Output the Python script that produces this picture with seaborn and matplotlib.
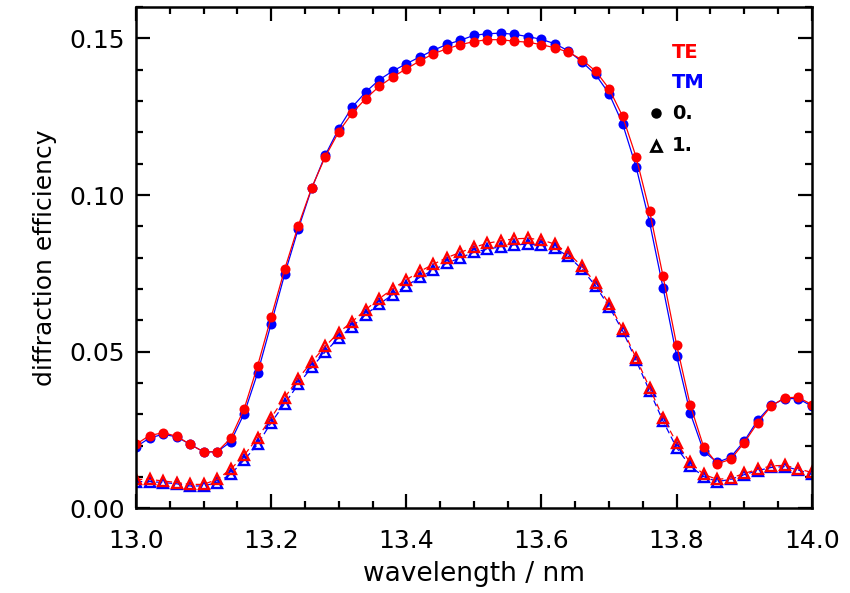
import numpy as np
import pandas as pd
import matplotlib
matplotlib.use("Agg")
import matplotlib.pyplot as plt
from matplotlib.ticker import MultipleLocator, FormatStrFormatter
import seaborn as sns

# wavelength grid (nm)
wavelength = [round(13.0 + 0.02 * i, 2) for i in range(51)]

# zeroth order, TE polarisation
te_0 = [0.0204, 0.0232, 0.0241, 0.0230, 0.0204, 0.0180, 0.0180, 0.0223, 0.0317, 0.0455,
        0.0610, 0.0763, 0.0901, 0.1023, 0.1122, 0.1202, 0.1262, 0.1308, 0.1347, 0.1377,
        0.1403, 0.1428, 0.1451, 0.1467, 0.1480, 0.1490, 0.1496, 0.1496, 0.1491, 0.1488,
        0.1480, 0.1470, 0.1456, 0.1432, 0.1396, 0.1340, 0.1252, 0.1122, 0.0949, 0.0740,
        0.0522, 0.0331, 0.0196, 0.0142, 0.0156, 0.0209, 0.0273, 0.0326, 0.0353, 0.0354,
        0.0331]
# zeroth order, TM polarisation
tm_0 = [0.0196, 0.0224, 0.0236, 0.0228, 0.0204, 0.0180, 0.0180, 0.0212, 0.0302, 0.0432,
        0.0589, 0.0747, 0.0891, 0.1021, 0.1127, 0.1212, 0.1281, 0.1329, 0.1368, 0.1396,
        0.1419, 0.1441, 0.1462, 0.1481, 0.1494, 0.1510, 0.1515, 0.1517, 0.1513, 0.1506,
        0.1497, 0.1483, 0.1460, 0.1425, 0.1385, 0.1324, 0.1228, 0.1090, 0.0913, 0.0703,
        0.0487, 0.0305, 0.0182, 0.0146, 0.0163, 0.0214, 0.0281, 0.0328, 0.0350, 0.0350,
        0.0326]
# first order, TE polarisation
te_1 = [0.0092, 0.0092, 0.0087, 0.0082, 0.0076, 0.0076, 0.0092, 0.0124, 0.0169, 0.0225,
        0.0289, 0.0353, 0.0414, 0.0467, 0.0517, 0.0561, 0.0596, 0.0634, 0.0669, 0.0701,
        0.0729, 0.0756, 0.0779, 0.0800, 0.0817, 0.0833, 0.0846, 0.0854, 0.0860, 0.0862,
        0.0857, 0.0843, 0.0814, 0.0772, 0.0719, 0.0653, 0.0573, 0.0480, 0.0384, 0.0289,
        0.0209, 0.0146, 0.0108, 0.0092, 0.0096, 0.0111, 0.0124, 0.0135, 0.0137, 0.0126,
        0.0114]
# first order, TM polarisation
tm_1 = [0.0085, 0.0085, 0.0082, 0.0078, 0.0071, 0.0071, 0.0082, 0.0108, 0.0154, 0.0204,
        0.0273, 0.0334, 0.0395, 0.0450, 0.0499, 0.0544, 0.0580, 0.0618, 0.0652, 0.0682,
        0.0710, 0.0737, 0.0761, 0.0782, 0.0800, 0.0817, 0.0827, 0.0835, 0.0841, 0.0843,
        0.0839, 0.0830, 0.0804, 0.0763, 0.0710, 0.0644, 0.0567, 0.0472, 0.0374, 0.0278,
        0.0193, 0.0135, 0.0101, 0.0085, 0.0092, 0.0107, 0.0120, 0.0130, 0.0133, 0.0122,
        0.0108]

df = pd.DataFrame({"wavelength": wavelength, "TE0": te_0, "TM0": tm_0,
                   "TE1": te_1, "TM1": tm_1})

sns.set_style("ticks")
plt.rcParams["font.family"] = ["DejaVu Sans"]
plt.rcParams["text.color"] = "black"
plt.rcParams["axes.labelcolor"] = "black"
plt.rcParams["xtick.color"] = "black"
plt.rcParams["ytick.color"] = "black"
plt.rcParams["axes.edgecolor"] = "black"

fig = plt.figure(figsize=(8.5, 5.93), dpi=100)
ax = fig.add_axes([0.16, 0.143, 0.795, 0.845])

RED = "#ff0000"
BLUE = "#0000ff"
MS = 7.2

# TM first, TE drawn on top
sns.lineplot(data=df, x="wavelength", y="TM0", ax=ax, color=BLUE, lw=0.9,
             marker="o", markersize=MS, markeredgewidth=0, markerfacecolor=BLUE)
sns.lineplot(data=df, x="wavelength", y="TE0", ax=ax, color=RED, lw=0.9,
             marker="o", markersize=MS, markeredgewidth=0, markerfacecolor=RED)
sns.lineplot(data=df, x="wavelength", y="TM1", ax=ax, color=BLUE, lw=0.9,
             linestyle=(0, (5, 3)), marker="^", markersize=7, markeredgewidth=1.7,
             markerfacecolor="none", markeredgecolor=BLUE)
sns.lineplot(data=df, x="wavelength", y="TE1", ax=ax, color=RED, lw=0.9,
             linestyle=(0, (5, 3)), marker="^", markersize=7, markeredgewidth=1.7,
             markerfacecolor="none", markeredgecolor=RED)

ax.set_xlim(13.0, 14.0)
ax.set_ylim(0.0, 0.16)
ax.xaxis.set_major_locator(MultipleLocator(0.2))
ax.xaxis.set_minor_locator(MultipleLocator(0.05))
ax.yaxis.set_major_locator(MultipleLocator(0.05))
ax.yaxis.set_minor_locator(MultipleLocator(0.01))
ax.xaxis.set_major_formatter(FormatStrFormatter("%.1f"))
ax.yaxis.set_major_formatter(FormatStrFormatter("%.2f"))

ax.tick_params(which="both", direction="in", top=True, right=True, width=1.6,
               labelsize=18, color="black", labelcolor="black")
ax.tick_params(which="major", length=10)
ax.tick_params(which="minor", length=5)
ax.tick_params(axis="x", which="major", pad=15)
ax.tick_params(axis="y", which="major", pad=8)
for s in ax.spines.values():
    s.set_linewidth(1.8)
    s.set_visible(True)

ax.set_xlabel("wavelength / nm", fontsize=19, labelpad=6)
ax.set_ylabel("diffraction efficiency", fontsize=18, labelpad=9)

# legend block
LX_SYM, LX_TXT = 0.769, 0.793
ax.text(LX_TXT, 0.910, "TE", transform=ax.transAxes, color=RED, fontsize=14,
        fontweight="bold", va="center", ha="left")
ax.text(LX_TXT, 0.850, "TM", transform=ax.transAxes, color=BLUE, fontsize=14,
        fontweight="bold", va="center", ha="left")
ax.plot([LX_SYM], [0.788], transform=ax.transAxes, marker="o", color="black",
        markersize=6.5, linestyle="none")
ax.text(LX_TXT, 0.788, "0.", transform=ax.transAxes, color="black", fontsize=14,
        fontweight="bold", va="center", ha="left")
ax.plot([LX_SYM], [0.723], transform=ax.transAxes, marker="^", color="black",
        markersize=7.5, markerfacecolor="none", markeredgewidth=2, linestyle="none")
ax.text(LX_TXT, 0.723, "1.", transform=ax.transAxes, color="black", fontsize=14,
        fontweight="bold", va="center", ha="left")

fig.savefig("out.png", dpi=100)
